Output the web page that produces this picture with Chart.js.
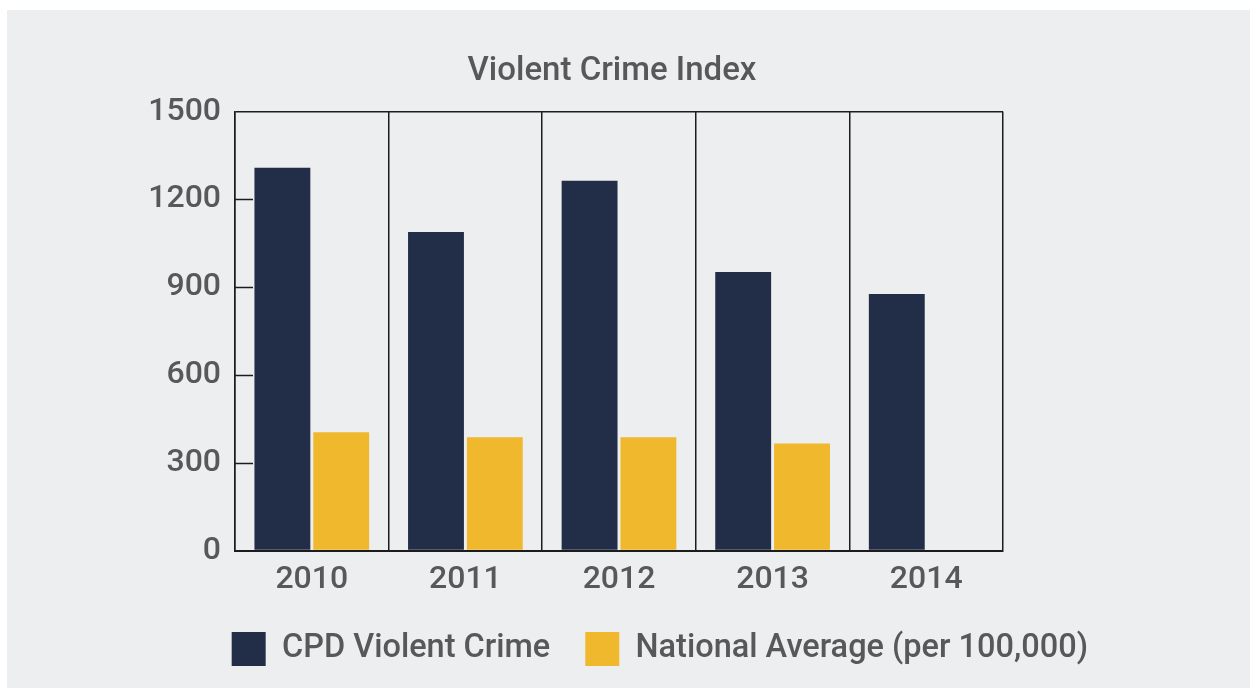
<!DOCTYPE html>
<html>
<head>
<meta charset="utf-8">
<script src="https://cdn.jsdelivr.net/npm/chart.js@4.4.1/dist/chart.umd.min.js"></script>
<style>
  html, body { margin: 0; padding: 0; background: #ffffff; }
  #panel { position: absolute; left: 7px; top: 10px; width: 1243px; height: 678px; background: #edeef0; }
  #wrap { position: absolute; left: 0; top: 0; width: 1250px; height: 698px; }
</style>
</head>
<body>
<div id="panel"></div>
<div id="wrap"><canvas id="c"></canvas></div>
<script>
const categories = ['2010', '2011', '2012', '2013', '2014'];
const cpdViolentCrime = [1308, 1089, 1264, 952, 877];
const nationalAverage = [404, 387, 387, 366, null];
const yTicks = [0, 300, 600, 900, 1200, 1500];
const seriesNames = ['CPD Violent Crime', 'National Average (per 100,000)'];
const chartTitle = 'Violent Crime Index';

const TEXT = '#58585a';
const FONT = 'Roboto, "Noto Sans", sans-serif';

const innerTicks = {
  id: 'innerTicks',
  beforeDatasetsDraw(chart) {
    const y = chart.scales.y;
    const ctx = chart.ctx;
    const left = chart.chartArea.left;
    ctx.save();
    ctx.strokeStyle = '#1c1c1c';
    ctx.lineWidth = 1.5;
    yTicks.forEach(v => {
      if (v === 0 || v === 1500) return;
      const py = Math.round(y.getPixelForValue(v)) + 0.5;
      ctx.beginPath();
      ctx.moveTo(left, py);
      ctx.lineTo(left + 18, py);
      ctx.stroke();
    });
    ctx.restore();
  }
};

new Chart(document.getElementById('c'), {
  type: 'bar',
  data: {
    labels: categories,
    datasets: [
      { label: seriesNames[0], data: cpdViolentCrime, backgroundColor: '#222d48' },
      { label: seriesNames[1], data: nationalAverage, backgroundColor: '#efb82d' }
    ]
  },
  options: {
    responsive: true,
    maintainAspectRatio: false,
    animation: false,
    categoryPercentage: 0.766,
    barPercentage: 0.95,
    layout: { padding: { left: 101, right: 127, top: 0, bottom: 22 } },
    plugins: {
      tooltip: { enabled: false },
      title: {
        display: true,
        text: chartTitle,
        color: TEXT,
        font: { family: FONT, size: 33, weight: '500' },
        padding: { top: 52, bottom: 20 }
      },
      legend: {
        position: 'bottom',
        align: 'end',
        labels: {
          color: TEXT,
          font: { family: FONT, size: 32.5, weight: '500' },
          boxWidth: 34,
          boxHeight: 34,
          padding: 35
        }
      }
    },
    scales: {
      x: {
        afterFit(s) { s.height -= 12; },
        grid: { offset: true, color: '#1c1c1c', lineWidth: 1.5, drawTicks: false },
        border: { color: '#1c1c1c', width: 2 },
        ticks: {
          color: TEXT,
          font: { family: FONT, size: 32, weight: '500' },
          padding: 10
        }
      },
      y: {
        min: 0,
        max: 1500,
        afterBuildTicks(s) { s.ticks = yTicks.map(v => ({ value: v })); },
        afterFit(s) { s.width = 134; },
        grid: {
          drawTicks: false,
          color: c => (c.tick && c.tick.value === 1500 ? '#1c1c1c' : 'rgba(0,0,0,0)'),
          lineWidth: 1.5
        },
        border: { color: '#1c1c1c', width: 1.5 },
        ticks: {
          color: TEXT,
          font: { family: FONT, size: 32, weight: '500' },
          padding: 14,
          callback: v => String(v)
        }
      },
      y2: {
        position: 'right',
        min: 0,
        max: 1500,
        grid: { display: false },
        border: { display: false },
        ticks: { display: false },
        afterFit(s) { s.width = 120; }
      }
    }
  },
  plugins: [innerTicks]
});
</script>
</body>
</html>
